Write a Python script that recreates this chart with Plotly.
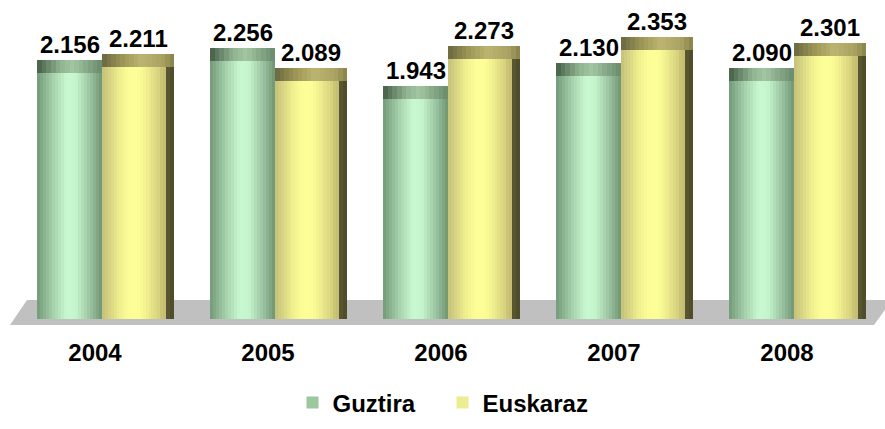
import plotly.graph_objects as go

years = ["2004", "2005", "2006", "2007", "2008"]
guztira = [2.156, 2.256, 1.943, 2.130, 2.090]
euskaraz = [2.211, 2.089, 2.273, 2.353, 2.301]
value_labels_g = ["2.156", "2.256", "1.943", "2.130", "2.090"]
value_labels_e = ["2.211", "2.089", "2.273", "2.353", "2.301"]

W, H = 885, 429
PXC = 173.0     # pixels per category
PXU = 120.0     # pixels per value unit
X0 = 95.0       # pixel x of category 0 label
Y0 = 319.0      # pixel y of value 0
PLOT_BOTTOM = 335.0

def ux(px):  # pixel width -> x data units
    return px / PXC

def dx(px):  # absolute pixel x -> data x
    return (px - X0) / PXC

def dy(py):  # absolute pixel y -> data y
    return (Y0 - py) / PXU

def h2r(h):
    h = h.lstrip("#")
    return tuple(int(h[i:i + 2], 16) for i in (0, 2, 4))

def interp(stops, t):
    for (t0, c0), (t1, c1) in zip(stops[:-1], stops[1:]):
        if t0 <= t <= t1:
            f = 0 if t1 == t0 else (t - t0) / (t1 - t0)
            a, b = h2r(c0), h2r(c1)
            return "rgb(%d,%d,%d)" % tuple(round(a[i] + (b[i] - a[i]) * f) for i in range(3))
    return "rgb(%d,%d,%d)" % h2r(stops[-1][1])

green_body = [(0, "#739a78"), (0.25, "#a6d2ac"), (0.45, "#c8f8d0"), (0.6, "#c6f6cc"), (0.85, "#94bc9a"), (1, "#70946f")]
green_cap = [(0, "#455e48"), (0.35, "#8fb290"), (0.55, "#a2c6a2"), (1, "#6a8a6c")]
yellow_body = [(0, "#c4c07a"), (0.25, "#ecec8c"), (0.45, "#ffff99"), (0.6, "#fcfc96"), (0.88, "#d8d480"), (0.97, "#c0b86a"), (1, "#d8d490")]
yellow_side = [(0, "#5c5a32"), (1, "#4c4a28")]
yellow_cap = [(0, "#6c6840"), (0.3, "#a09858"), (0.55, "#bcb470"), (0.85, "#a8a060"), (1, "#868048")]

CAP = 13 / PXU
xs = list(range(len(years)))
fig = go.Figure()

def strips(vals, left_px, width_px, stops, n, cap=False):
    w = width_px / n
    for k in range(n):
        col = interp(stops, (k + 0.5) / n)
        if cap:
            y = [CAP] * len(vals)
            base = [v - CAP for v in vals]
        else:
            y = vals
            base = [0] * len(vals)
        fig.add_bar(x=xs, y=y, base=base, offset=ux(left_px + k * w), width=ux(w * 1.15 if k < n - 1 else w),
                    marker=dict(color=col, line=dict(width=0)), showlegend=False, hoverinfo="skip")

# green (Guztira)
strips(guztira, -58, 65, green_body, 22)
strips(guztira, -58, 65, green_cap, 14, cap=True)
# yellow (Euskaraz)
strips(euskaraz, 7, 64, yellow_body, 22)
strips(euskaraz, 71, 8, yellow_side, 2)
strips(euskaraz, 7, 72, yellow_cap, 16, cap=True)

# legend entries
fig.add_bar(x=[None], y=[None], name="<b>Guztira</b>", marker=dict(color="#9cc8a0", line=dict(width=0)))
fig.add_bar(x=[None], y=[None], name="<b>Euskaraz</b>", marker=dict(color="#ecec90", line=dict(width=0)))

font_b = "Liberation Sans"
FS = 24
ann = []
for i, (v, t) in enumerate(zip(guztira, value_labels_g)):
    ann.append(dict(x=i + ux(-58 + 32.5), y=v, text="<b>%s</b>" % t, showarrow=False, yanchor="bottom",
                    yshift=0, font=dict(family=font_b, size=FS, color="black")))
for i, (v, t) in enumerate(zip(euskaraz, value_labels_e)):
    ann.append(dict(x=i + ux(7 + 36), y=v, text="<b>%s</b>" % t, showarrow=False, yanchor="bottom",
                    yshift=0, font=dict(family=font_b, size=FS, color="black")))

floor = "M %f %f L %f %f L %f %f L %f %f Z" % (dx(27), dy(300), dx(892), dy(300), dx(874), dy(325), dx(10), dy(325))

fig.update_layout(
    width=W, height=H,
    margin=dict(l=0, r=0, t=0, b=H - PLOT_BOTTOM),
    paper_bgcolor="white", plot_bgcolor="white",
    barmode="overlay",
    bargap=0,
    xaxis=dict(range=[dx(0), dx(W)], tickvals=xs, ticktext=["<b>%s</b>" % y for y in years],
               showgrid=False, zeroline=False, showline=False, ticks="", ticklabelstandoff=1,
               tickfont=dict(family=font_b, size=FS, color="black"), fixedrange=True),
    yaxis=dict(range=[dy(PLOT_BOTTOM), dy(0)], showgrid=False, zeroline=False, showline=False,
               showticklabels=False, ticks="", fixedrange=True),
    shapes=[dict(type="path", path=floor, xref="x", yref="y", fillcolor="#c0c0c0",
                 line=dict(width=0), layer="below")],
    annotations=ann,
    legend=dict(orientation="h", x=0.5, xanchor="center", y=-(403 - PLOT_BOTTOM) / PLOT_BOTTOM, yanchor="middle",
                font=dict(family=font_b, size=FS, color="black"), traceorder="normal",
                entrywidth=105, entrywidthmode="pixels"),
    showlegend=True,
)

fig.write_html("out.html", config={"displayModeBar": False},
               post_script="document.body.style.margin='0';document.body.style.overflow='hidden';")
